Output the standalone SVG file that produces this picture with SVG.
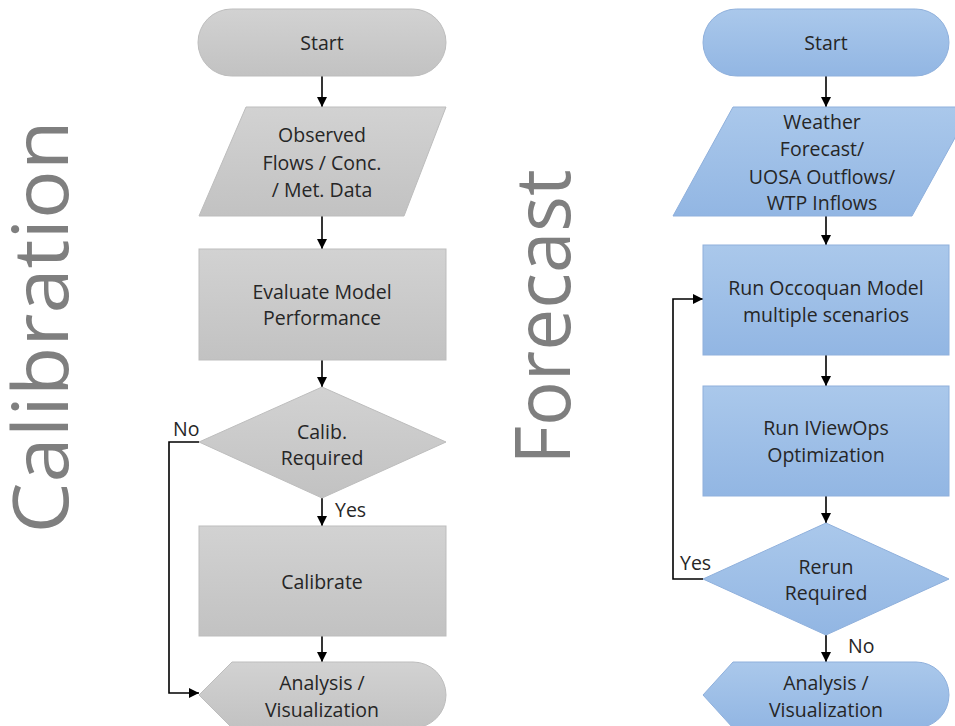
<svg xmlns="http://www.w3.org/2000/svg" width="955" height="726" viewBox="0 0 955 726">
<style>
.lbl{font-family:"Open Sans","Noto Sans","Liberation Sans",sans-serif;font-size:19.5px;fill:#262626;text-anchor:middle}
.side{font-family:"Open Sans","Noto Sans","Liberation Sans",sans-serif;font-weight:400;fill:#7f7f7f;text-anchor:middle}
.gray{fill:url(#gGray);stroke:#bdbdbd;stroke-width:1}
.blue{fill:url(#gBlue);stroke:#8fb0dc;stroke-width:1}
.conn{fill:none;stroke:#000;stroke-width:1.6;marker-end:url(#arr)}
.cl{font-family:"Open Sans","Noto Sans","Liberation Sans",sans-serif;font-size:19.5px;fill:#262626}
</style>
<defs>
<linearGradient id="gGray" x1="0" y1="0" x2="0" y2="1">
<stop offset="0" stop-color="#d2d2d2"/><stop offset="1" stop-color="#c2c2c2"/>
</linearGradient>
<linearGradient id="gBlue" x1="0" y1="0" x2="0" y2="1">
<stop offset="0" stop-color="#aac8eb"/><stop offset="1" stop-color="#92b6e3"/>
</linearGradient>
<marker id="arr" markerUnits="userSpaceOnUse" markerWidth="10" markerHeight="10" refX="10" refY="5" orient="auto">
<path d="M0,0 L10,5 L0,10 Z" fill="#000"/>
</marker>
</defs>
<rect width="955" height="726" fill="#fff"/>

<text class="side" font-size="76" textLength="413" lengthAdjust="spacingAndGlyphs" transform="translate(68,327) rotate(-90)">Calibration</text>
<text class="side" font-size="76" textLength="295" lengthAdjust="spacingAndGlyphs" transform="translate(570,317) rotate(-90)">Forecast</text>

<g id="connectors">
<path class="conn" d="M322,76 V107"/>
<path class="conn" d="M322,216 V249"/>
<path class="conn" d="M322,360 V387"/>
<path class="conn" d="M322,498 V526"/>
<path class="conn" d="M322,636 V662"/>
<path class="conn" d="M199,442 H169 V693 H199"/>
<text class="cl" x="173" y="436">No</text>
<text class="cl" x="335" y="517">Yes</text>
<path class="conn" d="M826,76 V107"/>
<path class="conn" d="M826,216 V245"/>
<path class="conn" d="M826,355 V386"/>
<path class="conn" d="M826,496 V523"/>
<path class="conn" d="M826,635 V662"/>
<path class="conn" d="M703,579 H673 V299 H703"/>
<text class="cl" x="680" y="570">Yes</text>
<text class="cl" x="848" y="653">No</text>
</g>

<g id="cal-start">
<rect class="gray" x="198" y="9" width="248" height="67" rx="33.5"/>
<text class="lbl" x="322" y="50">Start</text>
</g>
<g id="cal-data">
<polygon class="gray" points="246,107 446,107 404,216 199,216"/>
<text class="lbl" x="322" y="142">Observed</text>
<text class="lbl" x="322" y="170">Flows / Conc.</text>
<text class="lbl" x="322" y="197">/ Met. Data</text>
</g>
<g id="cal-evaluate">
<rect class="gray" x="199" y="249" width="247" height="111"/>
<text class="lbl" x="322" y="299">Evaluate Model</text>
<text class="lbl" x="322" y="325">Performance</text>
</g>
<g id="cal-decision">
<polygon class="gray" points="322,387 446,442 322,498 199,442"/>
<text class="lbl" x="322" y="439">Calib.</text>
<text class="lbl" x="322" y="465">Required</text>
</g>
<g id="cal-calibrate">
<rect class="gray" x="199" y="526" width="247" height="110"/>
<text class="lbl" x="322" y="589">Calibrate</text>
</g>
<g id="cal-analysis">
<path class="gray" d="M232,662 H413 A33,33 0 0 1 413,728 H232 L199,695 Z"/>
<text class="lbl" x="322" y="690">Analysis /</text>
<text class="lbl" x="322" y="717">Visualization</text>
</g>

<g id="fc-start">
<rect class="blue" x="703" y="9" width="246" height="67" rx="33.5"/>
<text class="lbl" x="826" y="50">Start</text>
</g>
<g id="fc-data">
<polygon class="blue" points="733,107 972,107 912,216 673,216"/>
<text class="lbl" x="822" y="129">Weather</text>
<text class="lbl" x="822" y="156">Forecast/</text>
<text class="lbl" x="822" y="184">UOSA Outflows/</text>
<text class="lbl" x="822" y="210">WTP Inflows</text>
</g>
<g id="fc-run-model">
<rect class="blue" x="703" y="245" width="246" height="110"/>
<text class="lbl" x="826" y="295">Run Occoquan Model</text>
<text class="lbl" x="826" y="322">multiple scenarios</text>
</g>
<g id="fc-optimize">
<rect class="blue" x="703" y="386" width="246" height="110"/>
<text class="lbl" x="826" y="435">Run IViewOps</text>
<text class="lbl" x="826" y="462">Optimization</text>
</g>
<g id="fc-decision">
<polygon class="blue" points="826,523 949,579 826,635 703,579"/>
<text class="lbl" x="826" y="574">Rerun</text>
<text class="lbl" x="826" y="600">Required</text>
</g>
<g id="fc-analysis">
<path class="blue" d="M733,662 H916 A33,33 0 0 1 916,728 H733 L703,695 Z"/>
<text class="lbl" x="826" y="690">Analysis /</text>
<text class="lbl" x="826" y="717">Visualization</text>
</g>
</svg>
